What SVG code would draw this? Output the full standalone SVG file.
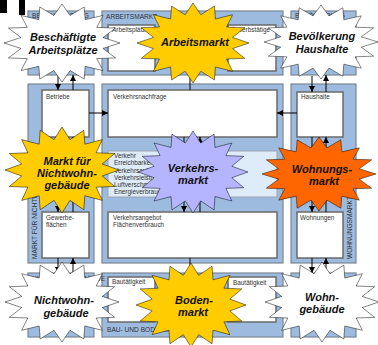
<svg xmlns="http://www.w3.org/2000/svg" xmlns:xlink="http://www.w3.org/1999/xlink" width="378" height="345" viewBox="0 0 378 345">
<style>
.fr{fill:#9dbbdf;stroke:#7a8592;stroke-width:1.2}
.bx{fill:#fff;stroke:#6a6a6a;stroke-width:1.5}
.band{fill:#deebf8;stroke:#9aa4ae;stroke-width:1}
.lbl{font-family:'Liberation Sans',Arial,sans-serif;font-size:6.4px;fill:#333}
.cap{font-family:'Liberation Sans',Arial,sans-serif;font-size:6.6px;fill:#333}
.st{font-family:'Liberation Sans',Arial,sans-serif;font-size:11px;font-weight:bold;font-style:italic;text-anchor:middle;fill:#111}
.con line{stroke:#000;stroke-width:1}
.arr{marker-end:url(#ah)}
.sp{stroke:#000;stroke-width:1;vector-effect:non-scaling-stroke;stroke-linejoin:miter}
</style>
<defs>
<marker id="ah" markerWidth="6" markerHeight="6" refX="6" refY="3" orient="auto" markerUnits="userSpaceOnUse"><path d="M0,0 L6,3 L0,6 z" fill="#000"/></marker>
<polygon id="star" points="0,-100 14,-70.6 38.3,-92.4 40,-59.9 70.7,-70.7 59.9,-40 92.4,-38.3 70.6,-14 100,0 70.6,14 92.4,38.3 59.9,40 70.7,70.7 40,59.9 38.3,92.4 14,70.6 0,100 -14,70.6 -38.3,92.4 -40,59.9 -70.7,70.7 -59.9,40 -92.4,38.3 -70.6,14 -100,0 -70.6,-14 -92.4,-38.3 -59.9,-40 -70.7,-70.7 -40,-59.9 -38.3,-92.4 -14,-70.6"/>
</defs>
<rect width="378" height="345" fill="#fff"/>
<rect x="0" y="0" width="7" height="13" fill="#000"/>
<rect x="19" y="0" width="6" height="15" fill="#000"/>

<g id="frames">
<rect class="fr" x="28" y="11" width="66" height="64"/>
<rect class="fr" x="102" y="11" width="181" height="64"/>
<rect class="fr" x="291" y="11" width="65" height="64"/>
<rect class="fr" x="28" y="84" width="66" height="179"/>
<rect class="fr" x="102" y="84" width="181" height="179"/>
<rect class="fr" x="291" y="84" width="65" height="179"/>
<rect class="fr" x="28" y="273" width="66" height="64"/>
<rect class="fr" x="102" y="273" width="181" height="64"/>
<rect class="fr" x="291" y="273" width="65" height="64"/>
<text class="cap" x="32" y="18">BESCHÄFTIGUNG</text>
<text class="cap" x="106" y="19">ARBEITSMARKT</text>
<text class="cap" x="295" y="18">BEVÖLKERUNG</text>
<text class="cap" transform="translate(37,259) rotate(-90)">MARKT FÜR NICHTWOHNGEBÄUDE</text>
<text class="cap" transform="translate(352,259) rotate(-90)">WOHNUNGSMARKT</text>
<text class="cap" x="32" y="281">NICHTWOHNGEBÄUDE</text>
<text class="cap" x="107" y="332">BAU- UND BODENMARKT</text>
</g>

<g id="box-arbeitsplaetze"><rect class="bx" x="108" y="25" width="47" height="46"/><text class="lbl" x="112" y="32">Arbeitsplätze</text></g>
<g id="box-erwerbstaetige"><rect class="bx" x="228" y="25" width="48" height="46"/><text class="lbl" x="231" y="32">Erwerbstätige</text></g>
<g id="box-betriebe"><rect class="bx" x="42" y="90" width="47" height="47"/><text class="lbl" x="46" y="99">Betriebe</text></g>
<g id="box-verkehrsnachfrage"><rect class="bx" x="108" y="90" width="169" height="47"/><text class="lbl" x="113" y="99">Verkehrsnachfrage</text></g>
<g id="box-haushalte"><rect class="bx" x="297" y="92" width="46" height="45"/><text class="lbl" x="301" y="99">Haushalte</text></g>
<g id="box-verkehr"><rect class="band" x="108" y="151" width="169" height="46"/>
<text class="lbl" x="114" y="158">Verkehr</text>
<text class="lbl" x="114" y="165">Erreichbarkeit</text>
<text class="lbl" x="114" y="172.5">Verkehrsaufkommen</text>
<text class="lbl" x="114" y="180">Verkehrsleistung</text>
<text class="lbl" x="114" y="187">Luftverschmutzung</text>
<text class="lbl" x="114" y="194">Energieverbrauch</text></g>
<g id="box-gewerbeflaechen"><rect class="bx" x="42" y="212" width="47" height="46"/><text class="lbl" x="46" y="220">Gewerbe-</text><text class="lbl" x="46" y="227">flächen</text></g>
<g id="box-verkehrsangebot"><rect class="bx" x="108" y="212" width="169" height="46"/><text class="lbl" x="113" y="220">Verkehrsangebot</text><text class="lbl" x="113" y="227">Flächenverbrauch</text></g>
<g id="box-wohnungen"><rect class="bx" x="297" y="212" width="46" height="46"/><text class="lbl" x="300" y="220">Wohnungen</text></g>
<g id="box-bau1"><rect class="bx" x="108" y="277" width="47" height="45"/><text class="lbl" x="112" y="284">Bautätigkeit</text></g>
<g id="box-bau2"><rect class="bx" x="228" y="277" width="48" height="45"/><text class="lbl" x="233" y="285">Bautätigkeit</text></g>

<g id="connectors" class="con">
<line class="arr" x1="58" y1="76" x2="58" y2="90"/>
<line class="arr" x1="73" y1="90" x2="73" y2="75"/>
<line class="arr" x1="58" y1="137" x2="58" y2="212"/>
<line class="arr" x1="73" y1="212" x2="73" y2="137"/>
<line class="arr" x1="58" y1="258" x2="58" y2="273"/>
<line class="arr" x1="73" y1="273" x2="73" y2="258"/>
<line class="arr" x1="89" y1="113" x2="108" y2="113"/>
<line class="arr" x1="312" y1="76" x2="312" y2="92"/>
<line class="arr" x1="326" y1="92" x2="326" y2="75"/>
<line class="arr" x1="312" y1="137" x2="312" y2="212"/>
<line class="arr" x1="326" y1="212" x2="326" y2="137"/>
<line class="arr" x1="312" y1="258" x2="312" y2="273"/>
<line class="arr" x1="326" y1="273" x2="326" y2="258"/>
<line class="arr" x1="297" y1="113" x2="277" y2="113"/>
<line class="arr" x1="184" y1="137" x2="184" y2="212"/>
<line class="arr" x1="200" y1="212" x2="200" y2="137"/>
<line x1="190" y1="72" x2="190" y2="90"/>
<line x1="190" y1="258" x2="190" y2="277"/>
</g>

<g id="beschaeftigte"><use xlink:href="#star" href="#star" class="sp" fill="#fff" transform="translate(62,43) scale(0.58,0.39)"/><text class="st" x="63" y="41">Beschäftigte</text><text class="st" x="63" y="54">Arbeitsplätze</text></g>
<g id="arbeitsmarkt"><use xlink:href="#star" href="#star" class="sp" fill="#ffcc00" transform="translate(193,43) scale(0.56,0.40)"/><text class="st" x="195" y="46">Arbeitsmarkt</text></g>
<g id="bevoelkerung"><use xlink:href="#star" href="#star" class="sp" fill="#fff" transform="translate(321,42) scale(0.57,0.37)"/><text class="st" x="322" y="40">Bevölkerung</text><text class="st" x="322" y="53">Haushalte</text></g>
<g id="nichtwohnmarkt"><use xlink:href="#star" href="#star" class="sp" fill="#ffcc00" transform="translate(62,170) scale(0.57,0.43)"/><text class="st" x="67" y="165">Markt für</text><text class="st" x="67" y="177">Nichtwohn-</text><text class="st" x="67" y="189">gebäude</text></g>
<g id="verkehrsmarkt"><use xlink:href="#star" href="#star" class="sp" fill="#b4b4ff" transform="translate(193,172) scale(0.55,0.41)"/><text class="st" x="193" y="172">Verkehrs-</text><text class="st" x="193" y="184">markt</text></g>
<g id="wohnungsmarkt"><use xlink:href="#star" href="#star" class="sp" fill="#ff6600" transform="translate(319,174) scale(0.57,0.37)"/><text class="st" x="322" y="173">Wohnungs-</text><text class="st" x="324" y="185">markt</text></g>
<g id="nichtwohngebaeude"><use xlink:href="#star" href="#star" class="sp" fill="#fff" transform="translate(62,302) scale(0.57,0.40)"/><text class="st" x="64" y="304">Nichtwohn-</text><text class="st" x="66" y="317">gebäude</text></g>
<g id="bodenmarkt"><use xlink:href="#star" href="#star" class="sp" fill="#ffcc00" transform="translate(191,305) scale(0.55,0.42)"/><text class="st" x="194" y="304">Boden-</text><text class="st" x="193" y="316">markt</text></g>
<g id="wohngebaeude"><use xlink:href="#star" href="#star" class="sp" fill="#fff" transform="translate(322,302) scale(0.57,0.40)"/><text class="st" x="322" y="301">Wohn-</text><text class="st" x="322" y="313">gebäude</text></g>
</svg>
